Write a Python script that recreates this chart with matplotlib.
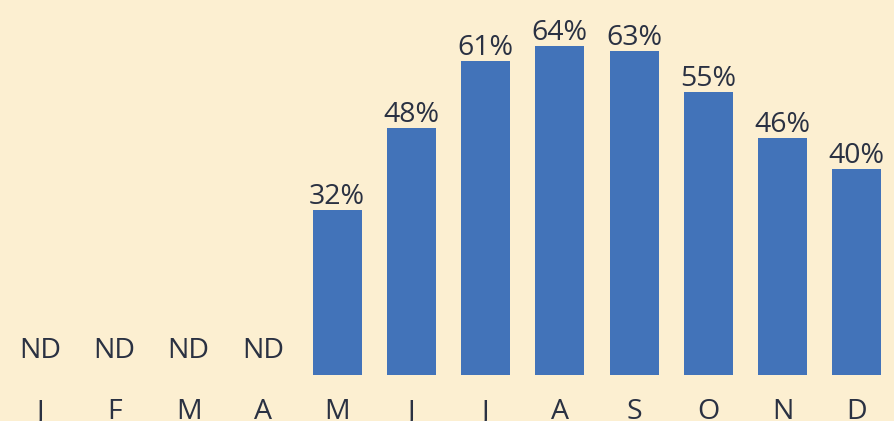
import numpy as np
import matplotlib.pyplot as plt

months = ["J", "F", "M", "A", "M", "J", "J", "A", "S", "O", "N", "D"]
values = [None, None, None, None, 32, 48, 61, 64, 63, 55, 46, 40]

bg = "#fcefd1"
bar_color = "#4273b9"
text_color = "#2a3142"

def main():
	plt.rcParams['font.family'] = ['Open Sans', 'DejaVu Sans']
	fs = 20.5
	fig = plt.figure(figsize=(8.95, 4.21), dpi=100, facecolor=bg)
	ax = fig.add_axes([3 / 895, 46 / 421, 891 / 895, 360 / 421])
	ax.set_facecolor(bg)
	x = np.arange(len(months))
	heights = [v if v is not None else 0 for v in values]
	ax.bar(x, heights, width=0.66, color=bar_color)
	for i, v in enumerate(values):
		if v is None:
			ax.annotate("ND", (i, 0), xytext=(0, 12.5), textcoords="offset points",
				ha="center", va="baseline", fontsize=fs, color=text_color)
		else:
			ax.annotate(f"{v}%", (i, v), xytext=(0, 4.5), textcoords="offset points",
				ha="center", va="baseline", fontsize=fs, color=text_color)
	ax.set_xlim(-0.5, len(months) - 0.5)
	ax.set_ylim(0, 70)
	ax.set_xticks(x)
	ax.set_xticklabels(months, fontsize=fs, color=text_color)
	ax.tick_params(axis="x", length=0, pad=16.5)
	ax.set_yticks([])
	for s in ax.spines.values():
		s.set_visible(False)
	fig.savefig("out.png", facecolor=bg)

if __name__ == "__main__":
	main()
